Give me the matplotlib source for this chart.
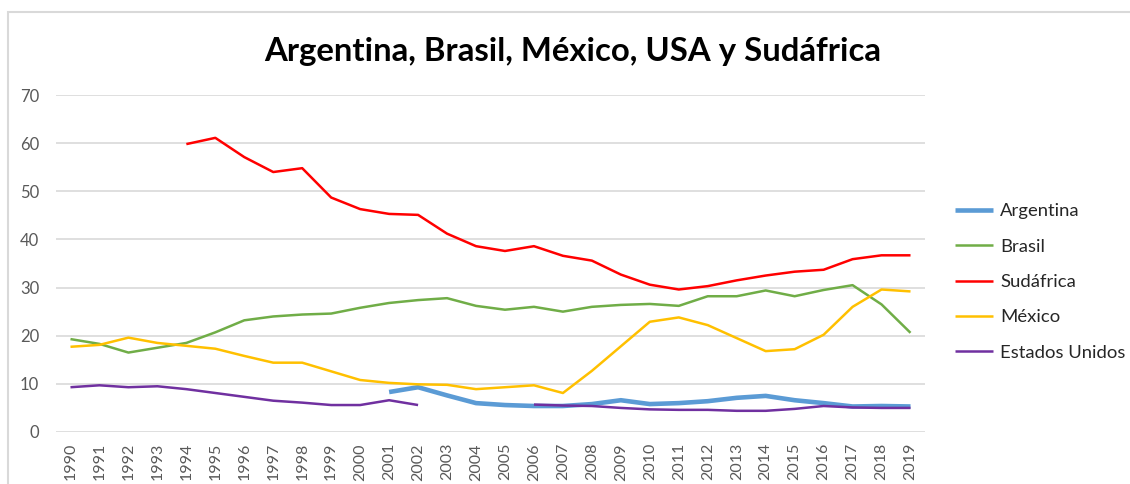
import numpy as np
import matplotlib
matplotlib.use("Agg")
import matplotlib.pyplot as plt
from matplotlib.patches import Rectangle

nan = np.nan

years = list(range(1990, 2020))

argentina = [nan] * 11 + [8.3, 9.3, 7.6, 6.0, 5.6, 5.4, 5.4, 5.8, 6.6,
                          5.8, 6.0, 6.4, 7.1, 7.5, 6.6, 6.0, 5.3, 5.4, 5.3]
brasil = [19.3, 18.3, 16.5, 17.5, 18.5, 20.7, 23.2, 24.0, 24.4, 24.6,
          25.8, 26.8, 27.4, 27.8, 26.2, 25.4, 26.0, 25.0, 26.0, 26.4,
          26.6, 26.2, 28.2, 28.2, 29.4, 28.2, 29.5, 30.5, 26.5, 20.6]
sudafrica = [nan] * 4 + [59.8, 61.1, 57.1, 54.0, 54.8, 48.7,
                         46.3, 45.3, 45.1, 41.2, 38.6, 37.6, 38.6, 36.6, 35.6, 32.7,
                         30.6, 29.6, 30.3, 31.5, 32.5, 33.3, 33.7, 35.9, 36.7, 36.7]
mexico = [17.7, 18.1, 19.6, 18.5, 17.9, 17.3, 15.8, 14.4, 14.4, 12.6,
          10.8, 10.2, 9.9, 9.8, 8.9, 9.3, 9.7, 8.1, 12.7, 17.8,
          22.9, 23.8, 22.2, 19.5, 16.8, 17.2, 20.2, 26.0, 29.6, 29.2]
usa = [9.3, 9.7, 9.3, 9.5, 8.9, 8.1, 7.3, 6.5, 6.1, 5.6,
       5.6, 6.6, 5.6, nan, nan, nan, 5.7, 5.5, 5.4, 5.0,
       4.7, 4.6, 4.6, 4.4, 4.4, 4.8, 5.4, 5.1, 5.0, 5.0]

series = [
    ("Argentina", argentina, "#5B9BD5", 3.3),
    ("Brasil", brasil, "#70AD47", 1.8),
    ("Sudáfrica", sudafrica, "#FF0000", 1.8),
    ("México", mexico, "#FFC000", 1.8),
    ("Estados Unidos", usa, "#7030A0", 1.8),
]

plt.rcParams["font.family"] = ["Lato", "DejaVu Sans"]

fig = plt.figure(figsize=(11.30, 4.84), dpi=100)

# marco del gráfico (recortado a la derecha y abajo)
fig.patches.append(Rectangle((8 / 1130, -0.1), 1.2, 1 - 12 / 484 + 0.1,
                             transform=fig.transFigure, fill=False,
                             edgecolor="#D9D9D9", linewidth=1.5))

ax = fig.add_axes([56 / 1130, 1 - 432 / 484, (925 - 56) / 1130, (432 - 95) / 484])

x = np.arange(len(years))
for name, vals, color, lw in series:
    ax.plot(x, vals, color=color, linewidth=lw, label=name, solid_capstyle="butt")

ax.set_xlim(-0.5, len(years) - 0.5)
ax.set_ylim(0, 70)
ax.set_yticks(range(0, 71, 10))
ax.set_xticks(x)
ax.set_xticklabels([str(y) for y in years], rotation=90)
ax.tick_params(axis="both", length=0, labelsize=11.5, colors="#595959")
ax.tick_params(axis="y", labelsize=12, pad=12)
ax.tick_params(axis="x", pad=8)
ax.grid(axis="y", color="#D9D9D9", linewidth=1.2)
ax.set_axisbelow(True)
for s in ax.spines.values():
    s.set_visible(False)

fig.text(573 / 1130, 1 - 51 / 484, "Argentina, Brasil, México, USA y Sudáfrica",
         ha="center", va="center", fontsize=23.7, fontweight="bold", color="black")

fig.legend(loc="center left", bbox_to_anchor=(0.8305, 1 - 282 / 484),
           frameon=False, fontsize=13.3, handlelength=2.05, handletextpad=0.38,
           labelspacing=1.05, labelcolor="#262626")

fig.savefig("out.png", dpi=100)
